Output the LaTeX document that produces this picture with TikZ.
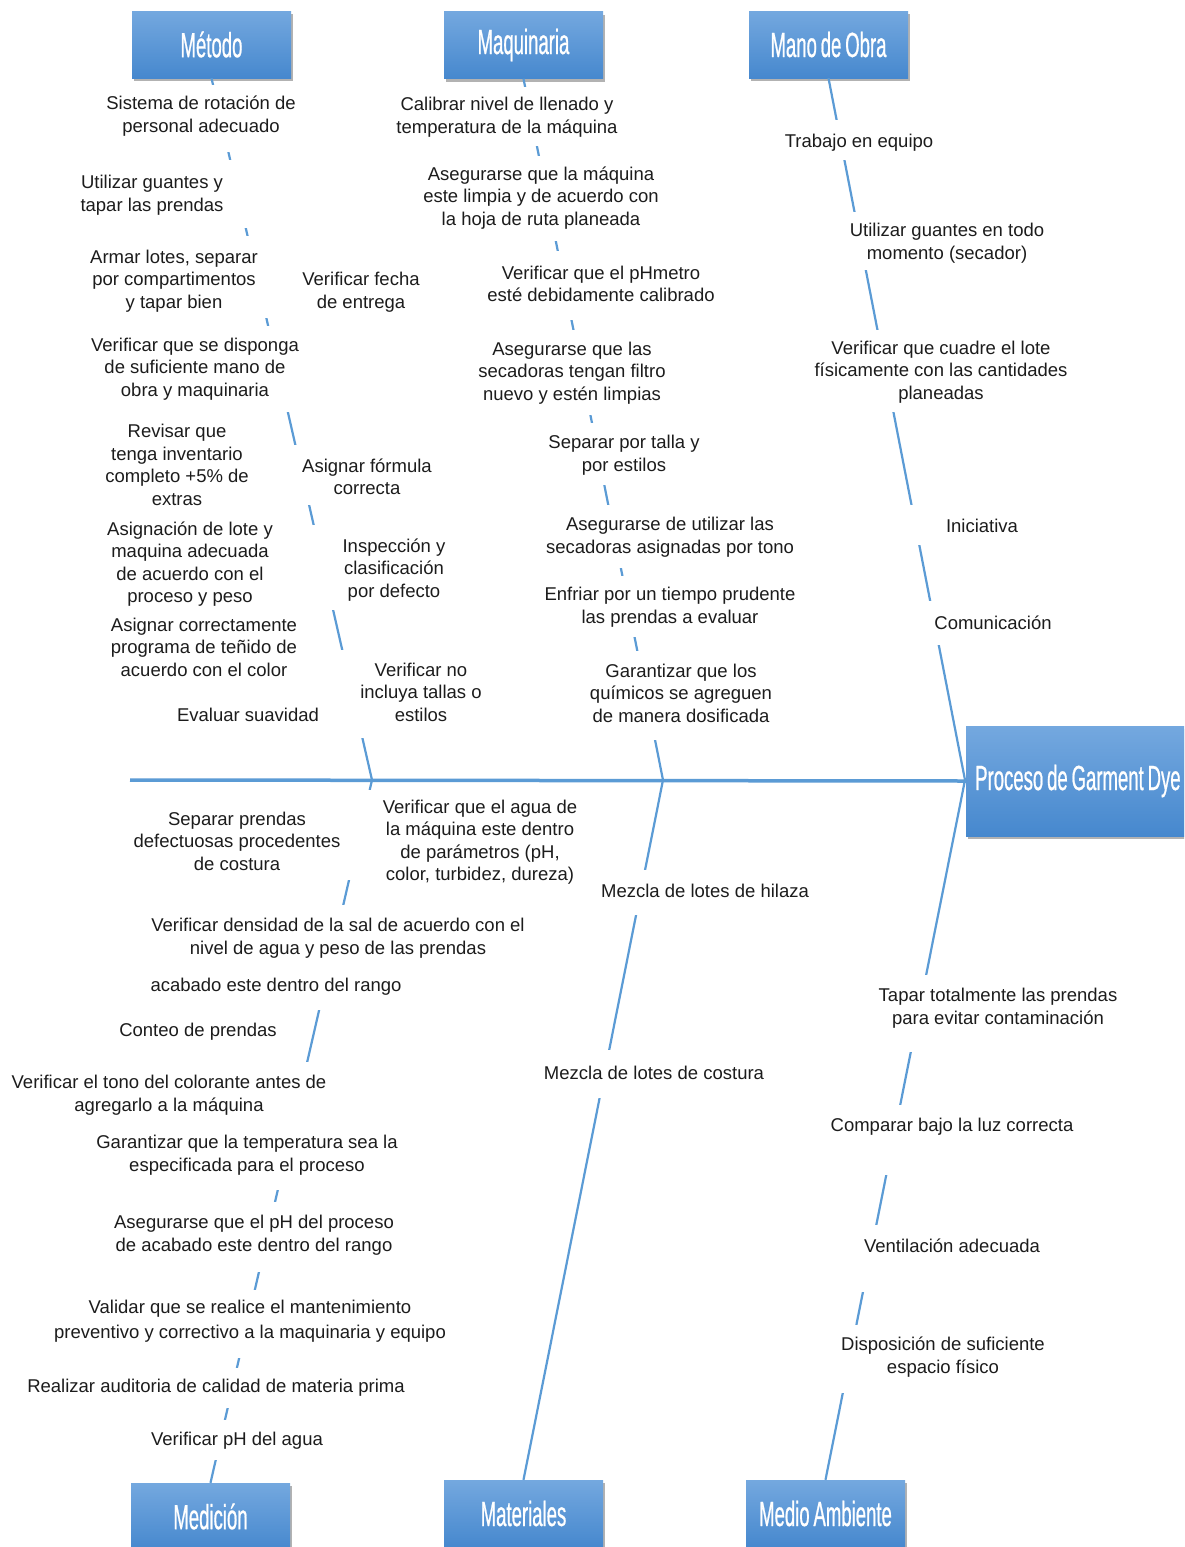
\documentclass[tikz,border=0pt]{standalone}
\usepackage{fontspec}
\setmainfont{Liberation Sans}
\newfontfamily\headfont[FakeStretch=0.53,WordSpace=0.75,FakeBold=0.6]{Liberation Sans}
\usetikzlibrary{calc,shadows}

\definecolor{ribblue}{RGB}{91,155,213}
\definecolor{boxtop}{RGB}{116,168,223}
\definecolor{boxbot}{RGB}{70,136,206}
\definecolor{ink}{RGB}{28,28,28}

\begin{document}
\begin{tikzpicture}[x=1pt,y=-1pt,
  catbox/.style={rectangle, minimum width=159pt, minimum height=67pt,
    top color=boxtop, bottom color=boxbot, draw=none, text=white,
    font=\headfont\fontsize{35}{35}\selectfont,
    drop shadow={shadow xshift=1.5pt, shadow yshift=-3pt, opacity=0.3, fill=black}},
  cause/.style={align=center, text=ink, inner sep=1pt,
    font=\fontsize{18.5}{22.5}\selectfont},
  rib/.style={draw=ribblue, line width=2.2pt},
  spine/.style={draw=ribblue, line width=3.5pt},
  gapmask/.style={fill=white, draw=none}]

\useasboundingbox (0,0) rectangle (1184,1547);
\clip (0,0) rectangle (1184,1547);
\fill[white] (0,0) rectangle (1184,1547);

% category boxes
\node[catbox] (metodo)   at (211.5,44.5) {Método};
\node[catbox] (maquina)  at (523.5,45)   {Maquinaria};
\node[catbox] (obra)     at (828.5,44.5) {Mano de Obra};
\node[catbox] (medicion) at (210.5,1516.5) {Medición};
\node[catbox] (material) at (523.5,1513.5) {Materiales};
\node[catbox] (ambiente) at (825.5,1513.5) {Medio Ambiente};

% effect box, running off the right edge
\node[catbox, anchor=west, minimum height=110pt, inner xsep=9pt]
  (efecto) at (966,781) {\makebox[262pt][l]{Proceso de Garment Dye}};

% spine and junctions
\coordinate (s1) at (372,780);
\coordinate (s2) at (663,780);
\coordinate (s3) at (965,780);
\coordinate (tail) at (130,780);
\draw[spine] (tail) -- (efecto.west);

% ribs
\draw[rib] (metodo.south) -- (s1);
\draw[rib] (maquina.south) -- (s2);
\draw[rib] (obra.south) -- (s3);
\draw[rib] (s1) -- (medicion.north);
\draw[rib] (s2) -- (material.north);
\draw[rib] (s3) -- (ambiente.north);

% the cause labels sit on white panels that interrupt the ribs
\foreach \a/\b in {85/152,160/228,236/318,326/412,445/505,525/610,650/738}
  \fill[gapmask] ($(metodo.south)!{(\a-78)/702}!(s1) + (-10,0)$) rectangle ($(metodo.south)!{(\b-78)/702}!(s1) + (10,0)$);
\foreach \a/\b in {86/145,155/240,250/320,330/415,423/485,505/568,576/637,651/740}
  \fill[gapmask] ($(maquina.south)!{(\a-78)/702}!(s2) + (-10,0)$) rectangle ($(maquina.south)!{(\b-78)/702}!(s2) + (10,0)$);
\foreach \a/\b in {120/160,212/270,330/412,505/545,601/645}
  \fill[gapmask] ($(obra.south)!{(\a-78)/702}!(s3) + (-10,0)$) rectangle ($(obra.south)!{(\b-78)/702}!(s3) + (10,0)$);
\foreach \a/\b in {790/880,905/1010,1062/1190,1202/1272,1290/1358,1368/1408,1420/1460}
  \fill[gapmask] ($(s1)!{(\a-780)/703}!(medicion.north) + (10,0)$) rectangle ($(s1)!{(\b-780)/703}!(medicion.north) + (-10,0)$);
\foreach \a/\b in {870/915,1050/1098}
  \fill[gapmask] ($(s2)!{(\a-780)/700}!(material.north) + (10,0)$) rectangle ($(s2)!{(\b-780)/700}!(material.north) + (-10,0)$);
\foreach \a/\b in {975/1052,1105/1175,1225/1292,1325/1393}
  \fill[gapmask] ($(s3)!{(\a-780)/700}!(ambiente.north) + (10,0)$) rectangle ($(s3)!{(\b-780)/700}!(ambiente.north) + (-10,0)$);

% Método
\node[cause] (m1)  at (201,116) {Sistema de rotación de\\personal adecuado};
\node[cause] (m2)  at (152,195) {Utilizar guantes y\\tapar las prendas};
\node[cause] (m3)  at (174,281) {Armar lotes, separar\\por compartimentos\\y tapar bien};
\node[cause] (m4)  at (361,292) {Verificar fecha\\de entrega};
\node[cause] (m5)  at (195,369) {Verificar que se disponga\\de suficiente mano de\\obra y maquinaria};
\node[cause] (m6)  at (177,465) {Revisar que\\tenga inventario\\completo +5\% de\\extras};
\node[cause] (m7)  at (367,477) {Asignar fórmula\\correcta};
\node[cause] (m8)  at (190,564) {Asignación de lote y\\maquina adecuada\\de acuerdo con el\\proceso y peso};
\node[cause] (m9)  at (394,570) {Inspección y\\clasificación\\por defecto};
\node[cause] (m10) at (204,647) {Asignar correctamente\\programa de teñido de\\acuerdo con el color};
\node[cause] (m11) at (421,692) {Verificar no\\incluya tallas o\\estilos};
\node[cause] (m12) at (248,715) {Evaluar suavidad};

% Maquinaria
\node[cause] (q1) at (507,117) {Calibrar nivel de llenado y\\temperatura de la máquina};
\node[cause] (q2) at (541,198) {Asegurarse que la máquina\\este limpia y de acuerdo con\\la hoja de ruta planeada};
\node[cause] (q3) at (601,284) {Verificar que el pHmetro\\esté debidamente calibrado};
\node[cause] (q4) at (572,373) {Asegurarse que las\\secadoras tengan filtro\\nuevo y estén limpias};
\node[cause] (q5) at (624,455) {Separar por talla y\\por estilos};
\node[cause] (q6) at (670,537) {Asegurarse de utilizar las\\secadoras asignadas por tono};
\node[cause] (q7) at (670,607) {Enfriar por un tiempo prudente\\las prendas a evaluar};
\node[cause] (q8) at (681,693) {Garantizar que los\\químicos se agreguen\\de manera dosificada};

% Mano de Obra
\node[cause] (o1) at (859,143) {Trabajo en equipo};
\node[cause] (o2) at (947,243) {Utilizar guantes en todo\\momento (secador)};
\node[cause] (o3) at (941,372) {Verificar que cuadre el lote\\físicamente con las cantidades\\planeadas};
\node[cause] (o4) at (982,526) {Iniciativa};
\node[cause] (o5) at (993,623) {Comunicación};

% Medición
\node[cause] (d1)  at (237,841)  {Separar prendas\\defectuosas procedentes\\de costura};
\node[cause] (d2)  at (480,842)  {Verificar que el agua de\\la máquina este dentro\\de parámetros (pH,\\color, turbidez, dureza)};
\node[cause] (d3)  at (338,938)  {Verificar densidad de la sal de acuerdo con el\\nivel de agua y peso de las prendas};
\node[cause] (d4)  at (276,987)  {acabado este dentro del rango};
\node[cause] (d5)  at (198,1032) {Conteo de prendas};
\node[cause] (d6)  at (169,1095) {Verificar el tono del colorante antes de\\agregarlo a la máquina};
\node[cause] (d7)  at (247,1155) {Garantizar que la temperatura sea la\\especificada para el proceso};
\node[cause] (d8)  at (254,1235) {Asegurarse que el pH del proceso\\de acabado este dentro del rango};
\node[cause, font=\fontsize{18.5}{25}\selectfont] (d9) at (250,1321) {Validar que se realice el mantenimiento\\preventivo y correctivo a la maquinaria y equipo};
\node[cause] (d10) at (216,1388) {Realizar auditoria de calidad de materia prima};
\node[cause] (d11) at (237,1441) {Verificar pH del agua};

% Materiales
\node[cause] (t1) at (705,891)  {Mezcla de lotes de hilaza};
\node[cause] (t2) at (654,1073) {Mezcla de lotes de costura};

% Medio Ambiente
\node[cause] (a1) at (998,1008) {Tapar totalmente las prendas\\para evitar contaminación};
\node[cause] (a2) at (952,1127) {Comparar bajo la luz correcta};
\node[cause] (a3) at (952,1246) {Ventilación adecuada};
\node[cause] (a4) at (943,1357) {Disposición de suficiente\\espacio físico};
\end{tikzpicture}
\end{document}
